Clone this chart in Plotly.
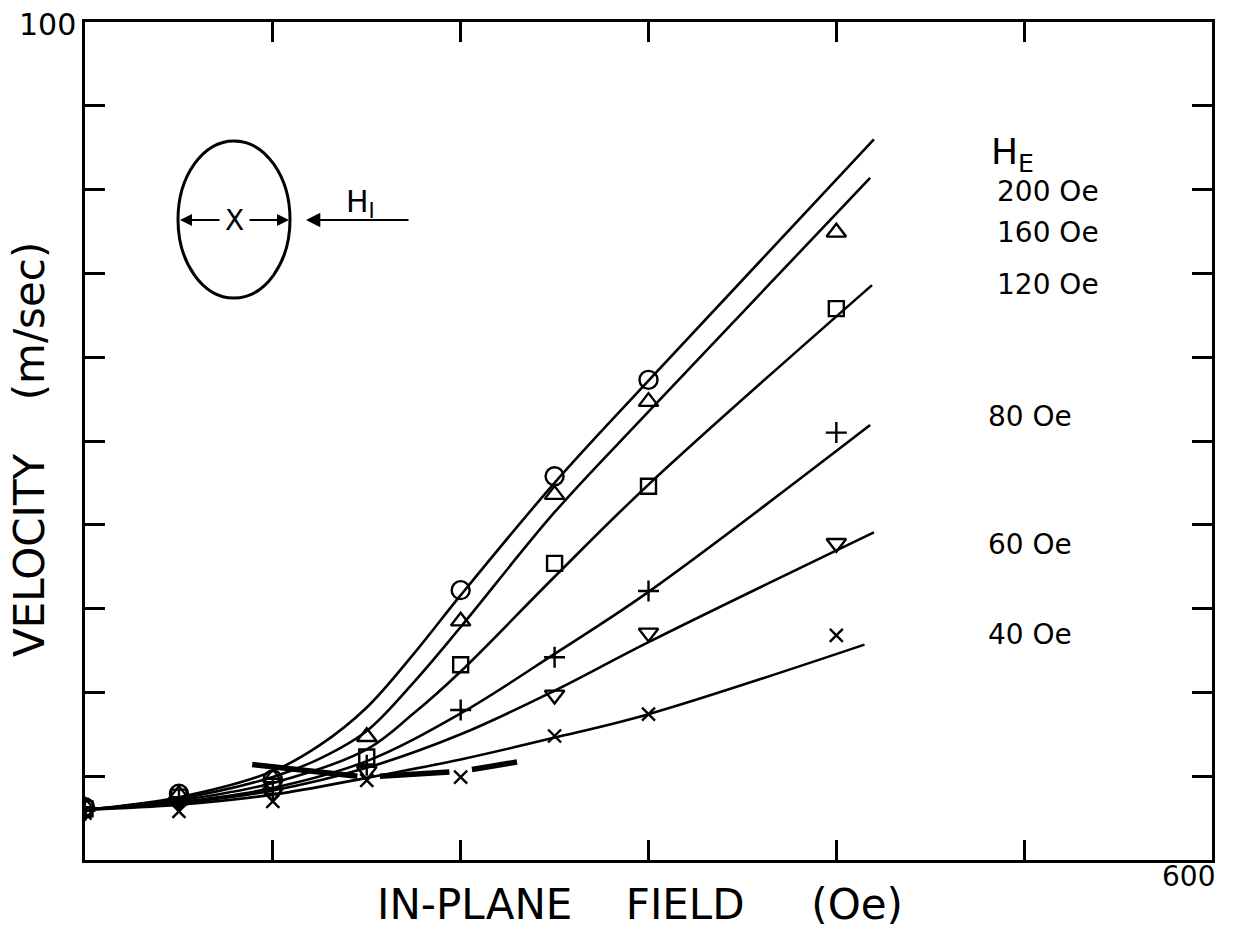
import plotly.graph_objects as go

# ---------------- data ----------------
# measured points (Oe, m/sec)
circ_x = [0, 50, 100, 200, 250, 300]
circ_y = [6.3, 7.9, 9.6, 32.2, 45.8, 57.3]
tri_x = [0, 50, 100, 150, 200, 250, 300, 400]
tri_y = [6.4, 7.8, 9.8, 14.7, 28.5, 43.6, 54.7, 74.9]
sq_x = [0, 50, 100, 150, 200, 250, 300, 400]
sq_y = [6.1, 7.5, 8.8, 12.3, 23.3, 35.4, 44.6, 65.8]
plus_x = [0, 50, 100, 150, 200, 250, 300, 400]
plus_y = [5.9, 7.2, 8.5, 11.3, 17.9, 24.2, 32.1, 51.0]
dtri_x = [0, 50, 100, 150, 250, 300, 400]
dtri_y = [5.8, 7.0, 8.0, 10.6, 19.7, 27.1, 37.8]
cross_x = [0, 50, 100, 150, 200, 250, 300, 400]
cross_y = [5.6, 5.8, 7.0, 9.5, 9.9, 14.8, 17.4, 26.8]

# drawn curves (vertices)
c200_x = [0, 50, 100, 125, 150, 175, 200, 250, 300, 420]
c200_y = [6.0, 7.5, 10.6, 13.7, 18.2, 24.6, 31.6, 45.0, 57.2, 86.0]
c160_x = [0, 50, 100, 125, 150, 175, 200, 250, 300, 418]
c160_y = [6.0, 7.3, 9.9, 12.1, 15.4, 21.2, 27.8, 41.5, 53.5, 81.4]
c120_x = [0, 50, 100, 150, 175, 200, 250, 300, 419]
c120_y = [6.0, 7.1, 9.2, 13.2, 17.5, 22.5, 33.8, 44.8, 68.6]
c80_x = [0, 50, 100, 150, 200, 250, 300, 418]
c80_y = [6.0, 6.9, 8.6, 11.8, 17.5, 24.6, 32.0, 51.9]
c60_x = [0, 50, 100, 150, 200, 250, 300, 420]
c60_y = [6.0, 6.8, 8.3, 11.0, 15.0, 20.2, 26.0, 39.1]
c40_x = [0, 50, 100, 150, 200, 250, 300, 415]
c40_y = [6.0, 6.6, 7.8, 9.8, 12.0, 14.6, 17.4, 25.7]

# thick dashed locus near the knee of the curves
locus_x = [89, 145, None, 157, 194, None, 206, 230]
locus_y = [11.4, 10.0, None, 10.0, 10.5, None, 10.8, 11.7]

he_labels = ["200 Oe", "160 Oe", "120 Oe", "80 Oe", "60 Oe", "40 Oe"]

# ---------------- figure ----------------
W, H = 1235, 929
L, R, T, B = 85, 1212, 22, 860
FONT = "DejaVu Sans"


def px2x(px):
    return (px - L) / (R - L) * 600.0


def py2y(py):
    return (B - py) / (B - T) * 100.0


def pxp(px):
    return (px - L) / (R - L)


def pyp(py):
    return (B - py) / (B - T)


fig = go.Figure()

line_style = dict(color="black", width=2.6, shape="spline", smoothing=1.0)
for cx, cy in [(c200_x, c200_y), (c160_x, c160_y), (c120_x, c120_y),
               (c80_x, c80_y), (c60_x, c60_y), (c40_x, c40_y)]:
    fig.add_trace(go.Scatter(x=cx, y=cy, mode="lines", line=line_style,
                             hoverinfo="skip", showlegend=False))

fig.add_trace(go.Scatter(x=locus_x, y=locus_y, mode="lines",
                         line=dict(color="black", width=5.5),
                         hoverinfo="skip", showlegend=False))

series = [
    (circ_x, circ_y, "circle-open", 18),
    (tri_x, tri_y, "triangle-up-open", 17),
    (sq_x, sq_y, "square-open", 15),
    (plus_x, plus_y, "cross-thin-open", 15),
    (dtri_x, dtri_y, "triangle-down-open", 17),
    (cross_x, cross_y, "x-thin-open", 13),
]
for sx, sy, sym, sz in series:
    fig.add_trace(go.Scatter(
        x=sx, y=sy, mode="markers",
        marker=dict(symbol=sym, size=sz, color="black",
                    line=dict(color="black", width=2.4)),
        showlegend=False))

axis_common = dict(showgrid=False, zeroline=False, showline=True, mirror="ticks",
                   linecolor="black", linewidth=3, ticks="inside", ticklen=20,
                   tickwidth=2.5, tickcolor="black", showticklabels=False)

fig.update_layout(
    width=W, height=H,
    margin=dict(l=L, r=W - R, t=T, b=H - B),
    paper_bgcolor="white", plot_bgcolor="white",
    xaxis=dict(range=[0, 600], tickvals=[100, 200, 300, 400, 500], **axis_common),
    yaxis=dict(range=[0, 100], tickvals=[10, 20, 30, 40, 50, 60, 70, 80, 90], **axis_common),
    font=dict(family=FONT, color="black"),
)

ann = []


def ptext(px, py, text, size, angle=0):
    ann.append(dict(x=pxp(px), y=pyp(py), xref="paper", yref="paper", text=text,
                    xanchor="center", yanchor="middle", textangle=angle,
                    showarrow=False, font=dict(size=size, family=FONT, color="black")))


sp4 = "&nbsp;" * 4
sp5 = "&nbsp;" * 5
# axis end labels
ptext(47, 24, "100", 30)
ptext(1188, 876, "600", 28)
# axis titles
ptext(640, 904, "IN-PLANE" + sp4 + "FIELD" + sp5 + "(Oe)", 42)
ptext(30, 450, "VELOCITY" + sp4 + "(m/sec)", 42, -90)
# H_E legend text
ptext(1012, 154, "H<sub>E</sub>", 36)
he_pos = [(1048, 191), (1048, 233), (1048, 284), (1030, 416), (1030, 544), (1030, 634)]
for lab, (hx, hy) in zip(he_labels, he_pos):
    ptext(hx, hy, lab, 28)

# inset: domain sketch
ann.append(dict(x=px2x(234), y=py2y(220), text="X", showarrow=False,
                xanchor="center", yanchor="middle",
                font=dict(size=28, family=FONT, color="black")))
ann.append(dict(x=px2x(180), y=py2y(220), ax=px2x(221), ay=py2y(220),
                axref="x", ayref="y", text="", showarrow=True, arrowhead=2,
                arrowsize=1.2, arrowwidth=2, arrowcolor="black"))
ann.append(dict(x=px2x(289), y=py2y(220), ax=px2x(248), ay=py2y(220),
                axref="x", ayref="y", text="", showarrow=True, arrowhead=2,
                arrowsize=1.2, arrowwidth=2, arrowcolor="black"))
ann.append(dict(x=px2x(306), y=py2y(220), ax=px2x(410), ay=py2y(220),
                axref="x", ayref="y", text="", showarrow=True, arrowhead=2,
                arrowsize=1.3, arrowwidth=2.2, arrowcolor="black"))
ann.append(dict(x=px2x(360), y=py2y(203), text="H<sub>I</sub>", showarrow=False,
                xanchor="center", yanchor="middle",
                font=dict(size=30, family=FONT, color="black")))

fig.update_layout(annotations=ann)
fig.add_shape(type="circle", xref="x", yref="y",
              x0=px2x(178), x1=px2x(290), y0=py2y(298), y1=py2y(141),
              line=dict(color="black", width=3))

fig.write_html("out.html")
